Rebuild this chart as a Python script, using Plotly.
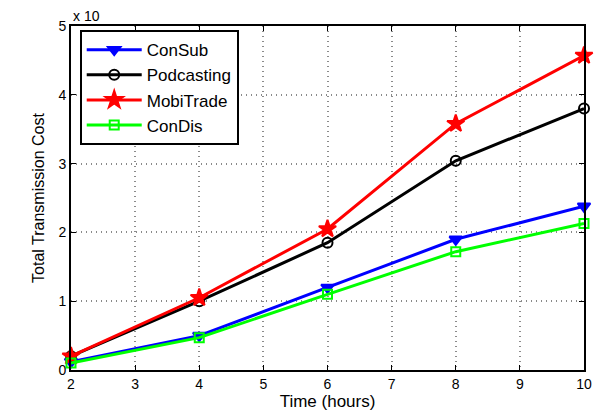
import plotly.graph_objects as go

time_hours = [2, 4, 6, 8, 10]
consub = [0.12, 0.50, 1.20, 1.90, 2.38]
podcasting = [0.20, 1.00, 1.85, 3.04, 3.80]
mobitrade = [0.20, 1.05, 2.05, 3.58, 4.57]
condis = [0.10, 0.47, 1.10, 1.72, 2.13]

x_ticks = [2, 3, 4, 5, 6, 7, 8, 9, 10]
y_ticks = [0, 1, 2, 3, 4, 5]

series = [
    ("ConSub", consub, "#0000ff", "triangle-down", 11),
    ("Podcasting", podcasting, "#000000", "circle-open", 10),
    ("MobiTrade", mobitrade, "#ff0000", "star", 13),
    ("ConDis", condis, "#00ff00", "square-open", 9),
]

fig = go.Figure()
for name, vals, color, sym, size in series:
    fig.add_trace(go.Scatter(
        x=time_hours, y=vals, name=name, mode="lines+markers",
        line=dict(color=color, width=3),
        marker=dict(symbol=sym, size=size, color=color,
                    line=dict(color=color, width=2)),
        cliponaxis=False,
    ))

font_family = "Liberation Sans, Arial"
axis_common = dict(
    showline=True, linecolor="black", linewidth=2, mirror="ticks",
    ticks="inside", ticklen=5, tickcolor="black",
    showgrid=True, gridcolor="#8a8a8a", griddash="1px,4px", gridwidth=1.5,
    zeroline=False, ticklabeloverflow="allow",
    tickfont=dict(family=font_family, size=14, color="black"),
)

fig.update_xaxes(range=[2, 10], tickvals=x_ticks,
                 title=dict(text="Time (hours)", standoff=2,
                            font=dict(family=font_family, size=17, color="black")),
                 **axis_common)
fig.update_yaxes(range=[0, 5], tickvals=y_ticks,
                 title=dict(text="Total Transmission Cost", standoff=10,
                            font=dict(family=font_family, size=16, color="black")),
                 **axis_common)

fig.add_annotation(text="x 10", xref="paper", yref="paper", x=0.0, y=1.0,
                   xanchor="left", yanchor="bottom", yshift=0, showarrow=False,
                   font=dict(family=font_family, size=14, color="black"))

fig.update_layout(
    width=594, height=408,
    margin=dict(l=63, r=10, t=14, b=46),
    paper_bgcolor="white", plot_bgcolor="white",
    showlegend=True,
    legend=dict(x=0.017, y=0.988, xanchor="left", yanchor="top",
                bgcolor="white", bordercolor="black", borderwidth=2,
                font=dict(family=font_family, size=17, color="black"),
                itemwidth=55, tracegroupgap=0),
)

fig.write_html("out.html")
